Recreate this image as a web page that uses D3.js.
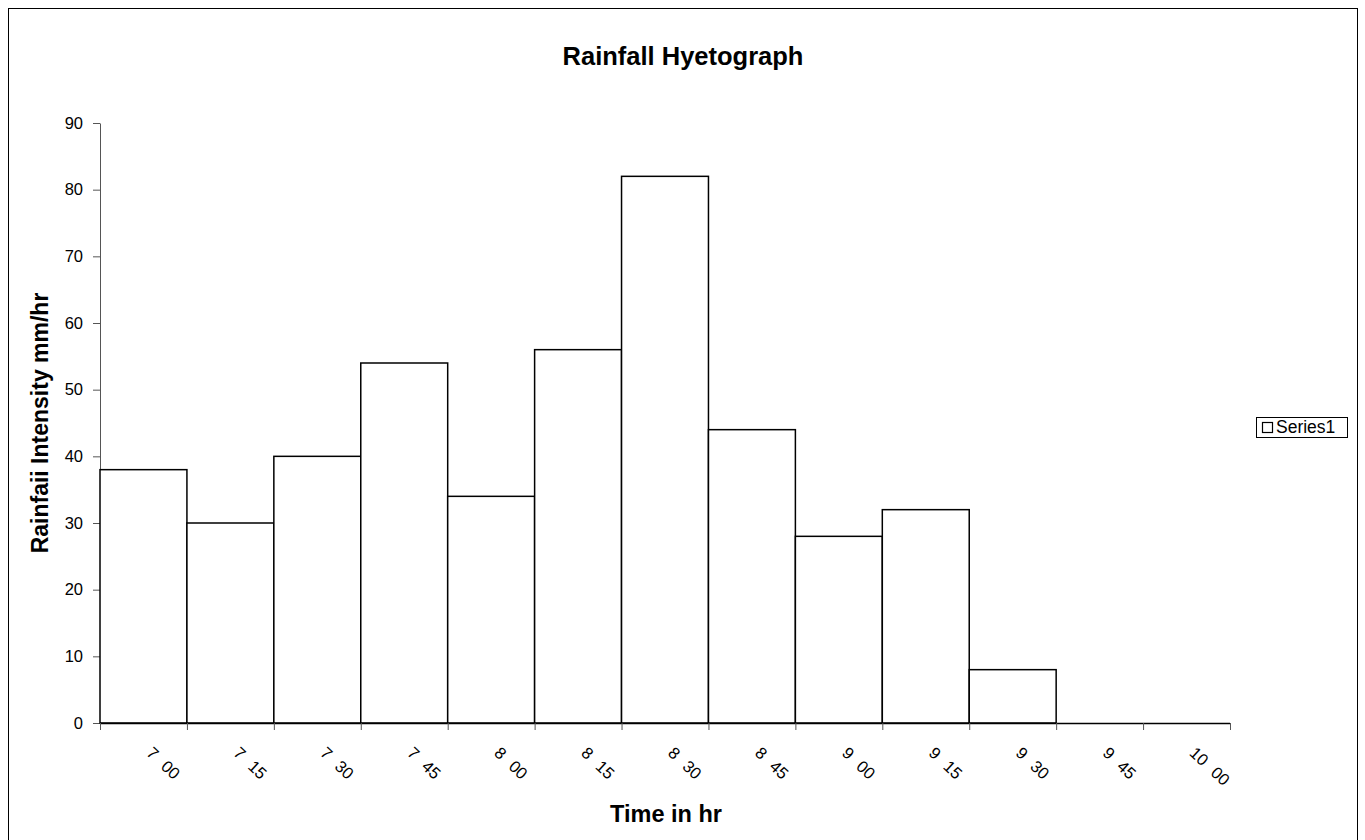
<!DOCTYPE html>
<html>
<head>
<meta charset="utf-8">
<script src="https://cdn.jsdelivr.net/npm/d3@7"></script>
<style>
  body { margin: 0; background: #fff; }
  text { font-family: "Liberation Sans", Arial, sans-serif; }
</style>
</head>
<body>
<script>
// time slots (category labels) and rainfall intensity
var times = ["7 00", "7 15", "7 30", "7 45", "8 00", "8 15", "8 30", "8 45", "9 00", "9 15", "9 30", "9 45", "10 00"];
var intensity = [38, 30, 40, 54, 34, 56, 82, 44, 28, 32, 8, 0, 0];
var yTicks = [0, 10, 20, 30, 40, 50, 60, 70, 80, 90];

var W = 1365, H = 840;
var svg = d3.select("body").append("svg")
    .attr("width", W)
    .attr("height", H);

// chart area frame
svg.append("rect")
    .attr("x", 8.5).attr("y", 8.5)
    .attr("width", 1349).attr("height", 840)
    .attr("fill", "#fff")
    .attr("stroke", "#000")
    .attr("stroke-width", 1);

var plotLeft = 100, plotRight = 1230, plotTop = 123, plotBottom = 723;

var x = d3.scaleBand()
    .domain(times)
    .range([plotLeft, plotRight])
    .padding(0);
var y = d3.scaleLinear()
    .domain([0, 90])
    .range([plotBottom, plotTop]);

// y axis
var yAxis = svg.append("g")
    .attr("transform", "translate(" + plotLeft + ",0)")
    .call(d3.axisLeft(y).tickValues(yTicks).tickSize(7).tickPadding(10).tickSizeOuter(0));
yAxis.select(".domain").attr("stroke", "#555");
yAxis.selectAll(".tick line").attr("stroke", "#555");
yAxis.selectAll("text")
    .attr("font-size", 16.5)
    .attr("fill", "#000")
    .style("font-family", "'Liberation Sans', Arial, sans-serif");

// bars
svg.selectAll(".bar")
    .data(times.map(function(t, i) { return {t: t, v: intensity[i]}; }).filter(function(d) { return d.v > 0; }))
    .enter().append("rect")
    .attr("class", "bar")
    .attr("x", function(d) { return x(d.t); })
    .attr("y", function(d) { return y(d.v); })
    .attr("width", x.bandwidth())
    .attr("height", function(d) { return plotBottom - y(d.v); })
    .attr("fill", "#fff")
    .attr("stroke", "#000")
    .attr("stroke-width", 1.5);

// x axis: ticks at category boundaries
var bounds = times.map(function(t) { return x(t); }).concat([plotRight]);
var xg = svg.append("g");
xg.append("line")
    .attr("x1", plotLeft).attr("x2", plotRight)
    .attr("y1", plotBottom + 0.5).attr("y2", plotBottom + 0.5)
    .attr("stroke", "#000").attr("stroke-width", 1.5);
xg.selectAll(".xt")
    .data(bounds)
    .enter().append("line")
    .attr("x1", function(d) { return d + 0.5; })
    .attr("x2", function(d) { return d + 0.5; })
    .attr("y1", plotBottom).attr("y2", plotBottom + 7)
    .attr("stroke", "#555");
xg.selectAll(".xl")
    .data(times)
    .enter().append("text")
    .attr("transform", function(d) {
        return "translate(" + (x(d) + x.bandwidth() / 2 + 6) + "," + (plotBottom + 27) + ") rotate(43)";
    })
    .attr("font-size", 16.5)
    .attr("text-anchor", "start")
    .attr("dy", "0.35em")
    .style("word-spacing", "6px")
    .text(function(d) { return d; });

// titles
svg.append("text")
    .attr("x", 683).attr("y", 65)
    .attr("text-anchor", "middle")
    .attr("font-size", 25.5).attr("font-weight", "bold")
    .text("Rainfall Hyetograph");
svg.append("text")
    .attr("x", 666).attr("y", 822)
    .attr("text-anchor", "middle")
    .attr("font-size", 23.5).attr("font-weight", "bold")
    .text("Time in hr");
svg.append("text")
    .attr("transform", "translate(48,423) rotate(-90)")
    .attr("text-anchor", "middle")
    .attr("font-size", 23).attr("font-weight", "bold")
    .text("Rainfaii Intensity mm/hr");

// legend
var lg = svg.append("g").attr("transform", "translate(1256,417)");
lg.append("rect")
    .attr("x", 0.5).attr("y", 0.5)
    .attr("width", 91).attr("height", 20)
    .attr("fill", "#fff").attr("stroke", "#000");
lg.append("rect")
    .attr("x", 6.5).attr("y", 5.5)
    .attr("width", 10).attr("height", 10)
    .attr("fill", "#fff").attr("stroke", "#000").attr("stroke-width", 1.2);
lg.append("text")
    .attr("x", 20).attr("y", 16)
    .attr("font-size", 17.5)
    .text("Series1");
</script>
</body>
</html>
